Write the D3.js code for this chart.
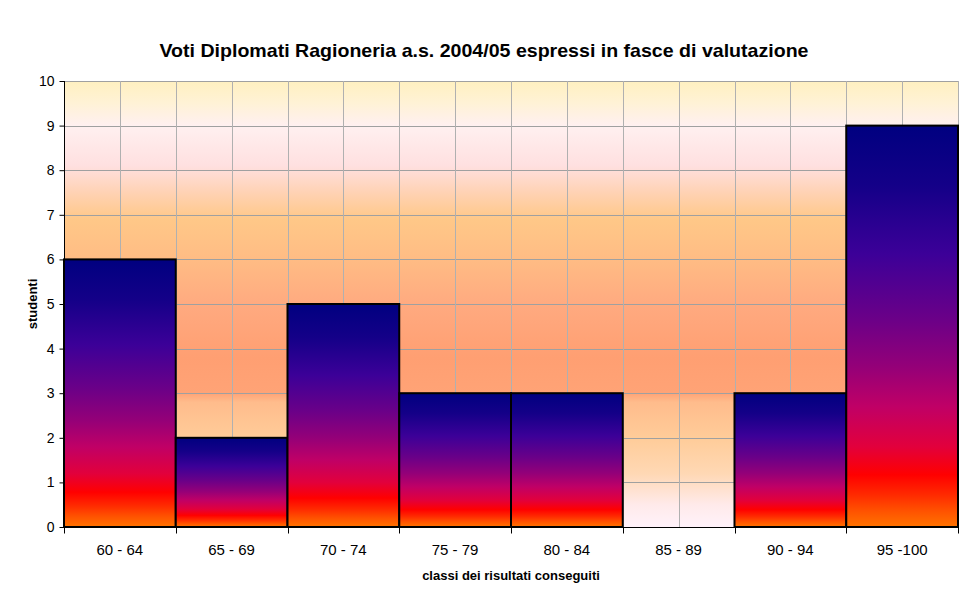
<!DOCTYPE html>
<html>
<head>
<meta charset="utf-8">
<script src="https://cdn.jsdelivr.net/npm/d3@7"></script>
<style>
  html, body { margin: 0; padding: 0; background: #ffffff; }
  svg { display: block; font-family: Arial, "Liberation Sans", sans-serif; }
</style>
</head>
<body>
<svg id="chart" width="972" height="602"></svg>
<script>
// ---- data ----
const categories = ["60 - 64", "65 - 69", "70 - 74", "75 - 79", "80 - 84", "85 - 89", "90 - 94", "95 -100"];
const studenti = [6, 2, 5, 3, 3, 0, 3, 9];
const yTickValues = [0, 1, 2, 3, 4, 5, 6, 7, 8, 9, 10];
const titleText = "Voti Diplomati Ragioneria a.s. 2004/05 espressi in fasce di valutazione";
const xAxisTitle = "classi dei risultati conseguiti";
const yAxisTitle = "studenti";

// ---- layout ----
const W = 972, H = 602;
const plot = { left: 64, right: 958, top: 81, bottom: 527 };

const svg = d3.select("#chart");
const defs = svg.append("defs");

// background gradient of plot area
const bgStops = [
  [0.00, "#fff0c0"], [0.05, "#fff2d6"], [0.10, "#fff0f0"], [0.19, "#ffe0e0"],
  [0.25, "#ffd2b4"], [0.31, "#ffc888"], [0.40, "#ffbc84"], [0.50, "#ffaa80"],
  [0.62, "#ff9f72"], [0.70, "#ffa376"], [0.72, "#ffbc8c"], [0.80, "#ffcc99"],
  [0.88, "#ffd8b4"], [0.95, "#ffeaea"], [1.00, "#fff2fa"]
];
const bg = defs.append("linearGradient").attr("id", "bgGrad")
  .attr("x1", 0).attr("y1", 0).attr("x2", 0).attr("y2", 1);
bgStops.forEach(s => bg.append("stop").attr("offset", s[0]).attr("stop-color", s[1]));

// bar gradient
const barStops = [
  [0.00, "#000080"], [0.15, "#140088"], [0.32, "#3c0098"], [0.48, "#6a0088"],
  [0.60, "#940078"], [0.70, "#c00066"], [0.80, "#e2003c"], [0.87, "#ff0000"],
  [0.92, "#ff2a00"], [0.96, "#ff5200"], [1.00, "#ff7400"]
];
const bgBar = defs.append("linearGradient").attr("id", "barGrad")
  .attr("x1", 0).attr("y1", 0).attr("x2", 0).attr("y2", 1);
barStops.forEach(s => bgBar.append("stop").attr("offset", s[0]).attr("stop-color", s[1]));

// ---- scales ----
const x = d3.scaleBand().domain(categories).range([plot.left, plot.right]).padding(0);
const y = d3.scaleLinear().domain([0, 10]).range([plot.bottom, plot.top]);

// plot background
svg.append("rect")
  .attr("x", plot.left).attr("y", plot.top)
  .attr("width", plot.right - plot.left).attr("height", plot.bottom - plot.top)
  .attr("fill", "url(#bgGrad)");

// horizontal gridlines
svg.append("g").selectAll("line").data(yTickValues.filter(v => v > 0)).join("line")
  .attr("x1", plot.left).attr("x2", plot.right)
  .attr("y1", d => Math.round(y(d)) + 0.5).attr("y2", d => Math.round(y(d)) + 0.5)
  .attr("stroke", "#a0a0a0").attr("stroke-width", 1);

// vertical gridlines: at category edges and centers
const vPos = [];
categories.forEach(c => { vPos.push(x(c)); vPos.push(x(c) + x.bandwidth() / 2); });
vPos.push(plot.right);
svg.append("g").selectAll("line").data(vPos.slice(1)).join("line")
  .attr("x1", d => Math.round(d) + 0.5).attr("x2", d => Math.round(d) + 0.5)
  .attr("y1", plot.top).attr("y2", plot.bottom)
  .attr("stroke", "#b0b0b0").attr("stroke-width", 1);

// bars
const data = categories.map((c, i) => ({ c, v: studenti[i] }));
svg.append("g").selectAll("rect").data(data.filter(d => d.v > 0)).join("rect")
  .attr("x", d => x(d.c))
  .attr("y", d => y(d.v))
  .attr("width", x.bandwidth())
  .attr("height", d => y(0) - y(d.v))
  .attr("fill", "url(#barGrad)")
  .attr("stroke", "#000")
  .attr("stroke-width", 2);

// y axis
const yAxis = d3.axisLeft(y).tickValues(yTickValues).tickSize(5).tickPadding(5).tickFormat(d3.format("d"));
const gy = svg.append("g").attr("transform", `translate(${plot.left + 0.5},0)`).call(yAxis);
gy.select(".domain").attr("stroke", "#000").attr("d", `M0,${plot.top}V${plot.bottom}`);
gy.selectAll(".tick line").attr("stroke", "#000");
gy.selectAll(".tick text").attr("fill", "#000").style("font-size", "14px")
  .style("font-family", "Arial, 'Liberation Sans', sans-serif");

// x axis (ticks at category boundaries)
const gx = svg.append("g").attr("transform", `translate(0,${plot.bottom + 0.5})`);
gx.append("line").attr("x1", plot.left).attr("x2", plot.right + 1)
  .attr("y1", 0).attr("y2", 0).attr("stroke", "#000");
const edges = categories.map(c => x(c)).concat([plot.right]);
gx.selectAll("line.tk").data(edges).join("line").attr("class", "tk")
  .attr("x1", d => Math.round(d) + 0.5).attr("x2", d => Math.round(d) + 0.5)
  .attr("y1", 0).attr("y2", 6).attr("stroke", "#000");
gx.selectAll("text").data(categories).join("text")
  .attr("x", d => x(d) + x.bandwidth() / 2)
  .attr("y", 27)
  .attr("text-anchor", "middle")
  .style("font-size", "15px")
  .attr("fill", "#000")
  .text(d => d);

// titles
svg.append("text")
  .attr("x", 484).attr("y", 57)
  .attr("text-anchor", "middle")
  .attr("textLength", 649).attr("lengthAdjust", "spacingAndGlyphs")
  .style("font-size", "19px").style("font-weight", "bold")
  .attr("fill", "#000")
  .text(titleText);

svg.append("text")
  .attr("x", (plot.left + plot.right) / 2).attr("y", 580)
  .attr("text-anchor", "middle")
  .style("font-size", "13px").style("font-weight", "bold")
  .attr("fill", "#000")
  .text(xAxisTitle);

svg.append("text")
  .attr("transform", `translate(32,${(plot.top + plot.bottom) / 2}) rotate(-90)`)
  .attr("text-anchor", "middle")
  .attr("dy", "0.35em")
  .style("font-size", "13px").style("font-weight", "bold")
  .attr("fill", "#000")
  .text(yAxisTitle);
</script>
</body>
</html>
